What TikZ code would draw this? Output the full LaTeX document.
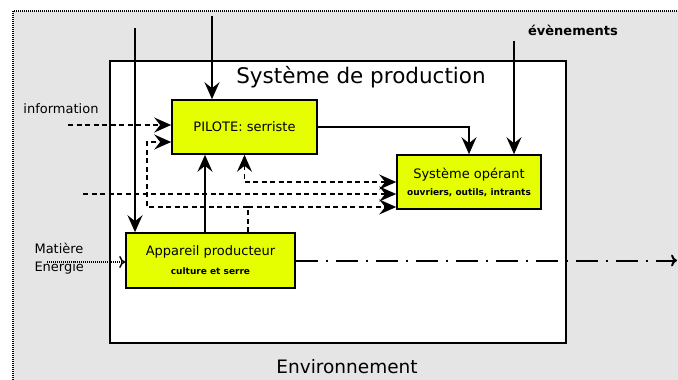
\documentclass[tikz,border=0pt]{standalone}
\usepackage{fontspec}
\setmainfont{DejaVu Sans}
\usetikzlibrary{arrows.meta}
\definecolor{fond}{RGB}{229,229,229}
\definecolor{jaune}{RGB}{229,255,0}
\newcommand\souslign[1]{{\fontsize{9}{10}\selectfont\bfseries #1}}

\begin{document}
\begin{tikzpicture}[x=1pt,y=-1pt,
  >={Stealth[length=17pt,width=15pt,inset=6pt]},
  txt/.style={font=\fontsize{13}{17}\selectfont},
  boite/.style={draw,line width=1.6pt,fill=jaune,minimum width=#1,minimum height=54pt,
    align=center,inner sep=0pt,txt},
  lien/.style={->,line width=1.8pt},
  tiret/.style={->,line width=1.8pt,dash pattern=on 5pt off 3.5pt}]
\clip (0,0) rectangle (678,380);
\fill[white] (0,0) rectangle (678,380);
\draw[fill=fond,line width=2.5pt,dash pattern=on 1pt off 1pt] (13,11) rectangle (700,400);
\draw[fill=white,line width=2pt] (110,61) rectangle (566,343);
\node (titre) at (361,77) {\fontsize{21.5}{24}\selectfont Système de production};
\node (env) at (347,367) {\fontsize{18.5}{20}\selectfont Environnement};
\node[boite=145pt] (pilote) at (244.5,127) {PILOTE: serriste};
\node[boite=144pt] (operant) at (469,182) {Système opérant\\\souslign{ouvriers, outils, intrants}};
\node[boite=169pt,minimum height=55pt] (appareil) at (210.5,260.5) {Appareil producteur\\[2pt]\souslign{culture et serre}};
\node[txt] (info) at (61,109) {information};
\node[txt,font=\fontsize{13}{17}\selectfont\bfseries] (evt) at (573,30) {évènements};
\node[txt,anchor=west,align=left,font=\fontsize{13}{18}\selectfont] (matiere) at (31,258.5) {Matière\\Energie};
\coordinate (e1) at (212,16);
\coordinate (e2) at (135,28);
\coordinate (e3) at (514,41);
\coordinate (e4) at (68,125);
\coordinate (e5) at (83,194);
\coordinate (e6) at (47,262);
\coordinate (bord) at (677,262);
\coordinate (r1) at (248,207);
\coordinate (r2) at (147,142);
\draw[lien] (e1) -- (e1 |- pilote.north);
\draw[lien] (e2) -- (e2 |- appareil.north);
\draw[lien] (e3) -- (e3 |- operant.north);
\draw[lien] (pilote.east) -| (operant.north);
\draw[lien] ([xshift=-5.5pt]appareil.north) -- ([xshift=-5.5pt]appareil.north |- pilote.south);
\draw[tiret] (e4) -- (e4 -| pilote.west);
\draw[tiret] (e5) -- (e5 -| operant.west);
\draw[tiret,<->] (pilote.south) |- (operant.west);
\draw[tiret] (appareil.north -| r1) -- (r1) -| (r2) -- (r2 -| pilote.west);
\draw[tiret] (r1) -- (r1 -| operant.west);
\draw[line width=1.5pt,dash pattern=on 1pt off 1pt,-{To[length=6pt,width=12pt]}] (e6) -- (e6 -| appareil.west);
\draw[line width=2pt,dash pattern=on 22pt off 8pt on 2pt off 8pt,-{To[length=6pt,width=12pt]}] (appareil.east) -- (appareil.east -| bord);
\end{tikzpicture}
\end{document}
